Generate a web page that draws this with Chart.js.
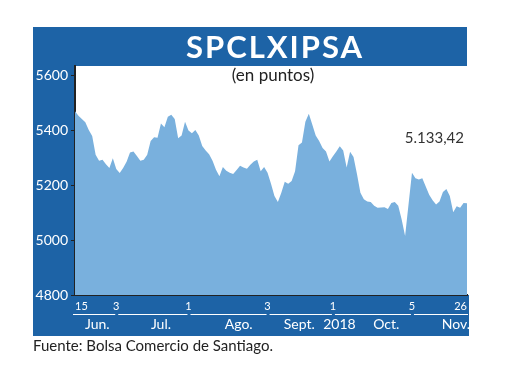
<!DOCTYPE html>
<html>
<head>
<meta charset="utf-8">
<script src="https://cdn.jsdelivr.net/npm/chart.js@4.4.1/dist/chart.umd.min.js"></script>
<style>
  html, body { margin: 0; padding: 0; background: #fff; }
  #wrap { width: 520px; height: 390px; }
</style>
</head>
<body>
<div id="wrap"><canvas id="cs" width="520" height="390"></canvas></div>
<script>
// SPCLXIPSA, daily close, 15 Jun - 26 Nov 2018
var values = [
  5468, 5452, 5440, 5428, 5400, 5378, 5310, 5288, 5292, 5276,
  5262, 5297, 5258, 5244, 5262, 5285, 5318, 5322, 5306, 5288,
  5292, 5310, 5360, 5374, 5372, 5424, 5410, 5448, 5456, 5440,
  5370, 5380, 5430, 5398, 5388, 5400, 5380, 5342, 5326, 5312,
  5288, 5256, 5232, 5266, 5252, 5245, 5240, 5255, 5270, 5264,
  5259, 5274, 5286, 5292, 5250, 5266, 5245, 5205, 5160, 5138,
  5172, 5212, 5205, 5215, 5250, 5345, 5355, 5430, 5459, 5420,
  5380, 5360, 5335, 5322, 5286, 5305, 5322, 5341, 5326, 5264,
  5321, 5302, 5240, 5172, 5148, 5140, 5138, 5125, 5117, 5118,
  5119, 5113, 5135, 5138, 5125, 5075, 5015, 5130, 5245, 5225,
  5220, 5225, 5195, 5165, 5145, 5129, 5140, 5175, 5186, 5160,
  5101, 5123, 5117, 5135, 5133.42
];
var days = values.map(function (v, i) { return i; });

var yTicks = [4800, 5000, 5200, 5400, 5600];
var tickIdx = [0, 12, 33, 56, 75, 98, 114];
var tickLabels = ['15', '3', '1', '3', '1', '5', '26'];
var months = ['Jun.', 'Jul.', 'Ago.', 'Sept.', '2018', 'Oct.', 'Nov.'];
var monthAt = [6.5, 25, 47.6, 65.2, 76.9, 90.5, 110.8];

var BLUE = '#1d63a6';
var FILL = '#79b0dd';

function fmt(v) {
  var s = v.toFixed(2).split('.');
  return s[0].replace(/\B(?=(\d{3})+(?!\d))/g, '.') + ',' + s[1];
}

var frame = {
  id: 'frame',
  beforeDraw: function (chart) {
    var c = chart.ctx;
    c.save();
    c.fillStyle = '#fff';
    c.fillRect(0, 0, 520, 390);
    c.fillStyle = BLUE;
    c.fillRect(33, 27, 434, 39);
    c.fillRect(33, 66, 42, 270);
    c.fillRect(33, 295, 436, 41);
    c.restore();
  },
  afterDraw: function (chart) {
    var c = chart.ctx, xs = chart.scales.x, area = chart.chartArea;
    c.save();
    c.textBaseline = 'alphabetic';
    c.textAlign = 'center';
    c.fillStyle = '#fff';
    c.font = 'bold 31px Lato';
    c.letterSpacing = '2px';
    c.fillText('SPCLXIPSA', 275, 58);
    c.letterSpacing = '0px';

    c.fillStyle = '#222';
    c.font = '17px Lato';
    c.textBaseline = 'middle';
    c.fillText('(en puntos)', 273, 76);

    c.textAlign = 'right';
    c.fillStyle = '#333';
    c.font = '15px Lato';
    c.fillText(fmt(values[values.length - 1]), 464, 138);

    // underlines between date ticks
    c.strokeStyle = '#fff';
    c.lineWidth = 1;
    for (var k = 0; k < tickIdx.length - 1; k++) {
      var a = xs.getPixelForValue(tickIdx[k]) + (k ? 2 : -2);
      var b = k < tickIdx.length - 2 ? xs.getPixelForValue(tickIdx[k + 1]) - 1 : area.right + 1;
      c.beginPath();
      c.moveTo(a, 314.5);
      c.lineTo(b, 314.5);
      c.stroke();
    }

    c.fillStyle = '#fff';
    c.textAlign = 'center';
    c.font = '14px Lato';
    for (var m = 0; m < months.length; m++) {
      c.fillText(months[m], xs.getPixelForValue(monthAt[m]), 324);
    }

    c.fillStyle = '#222';
    c.textAlign = 'left';
    c.font = '15px Lato';
    c.fillText('Fuente: Bolsa Comercio de Santiago.', 33, 346);
    c.restore();
  }
};

new Chart(document.getElementById('cs'), {
  type: 'line',
  data: {
    labels: days,
    datasets: [{
      data: values,
      fill: 'start',
      backgroundColor: FILL,
      borderWidth: 0,
      borderColor: FILL,
      pointRadius: 0,
      tension: 0
    }]
  },
  options: {
    responsive: false,
    animation: false,
    layout: { padding: { left: 0, top: 66, right: 53, bottom: 55 } },
    plugins: { legend: { display: false }, tooltip: { enabled: false } },
    scales: {
      x: {
        type: 'category',
        afterFit: function (s) { s.height = 40; },
        grid: { display: true, drawOnChartArea: false, drawTicks: false, color: 'rgba(0,0,0,0)' },
        border: { display: true, color: '#222', width: 2 },
        ticks: {
          autoSkip: false,
          maxRotation: 0,
          align: 'inner',
          padding: 5,
          color: '#fff',
          font: { family: 'Liberation Sans Narrow, Lato', size: 11 },
          callback: function (v, i) {
            var j = tickIdx.indexOf(i);
            return j < 0 ? '' : tickLabels[j];
          }
        }
      },
      y: {
        min: 4800,
        max: 5633,
        afterFit: function (s) { s.width = 75; },
        afterBuildTicks: function (s) {
          s.ticks = yTicks.map(function (v) { return { value: v }; });
        },
        grid: { display: true, drawOnChartArea: false, drawTicks: true, tickLength: 4, color: '#222' },
        border: { display: true, color: '#222', width: 2 },
        ticks: {
          padding: 3,
          color: '#fff',
          font: { family: 'Lato', size: 14 },
          callback: function (v) { return String(v); }
        }
      }
    }
  },
  plugins: [frame]
});
</script>
</body>
</html>
